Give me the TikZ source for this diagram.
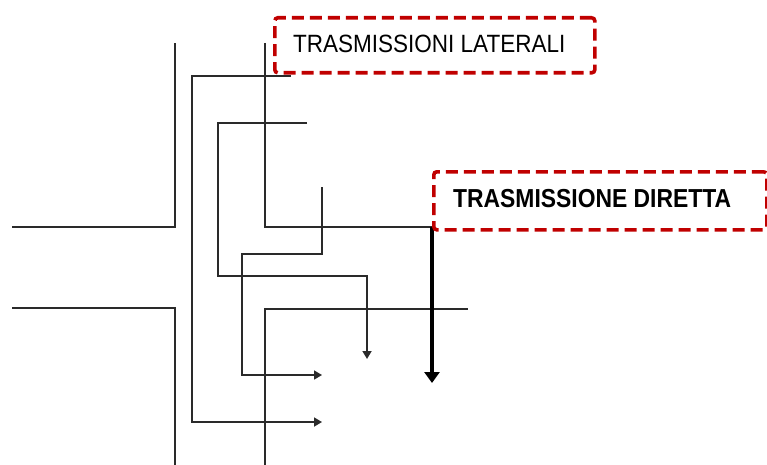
\documentclass[tikz,border=0pt]{standalone}
\usepackage{fontspec}
\setmainfont{Liberation Sans}
\usetikzlibrary{arrows.meta}
\definecolor{tagred}{HTML}{C00000}
\definecolor{ink}{HTML}{2A2A2A}

\begin{document}
\begin{tikzpicture}[x=1pt, y=-1pt,
  wallline/.style={line width=1.7pt, draw=ink},
  flow/.style={line width=1.7pt, draw=ink},
  flowtip/.style={-{Triangle[length=8pt, width=9pt]}},
  directtip/.style={-{Triangle[length=11pt, width=15pt]}},
  tagbox/.style={draw=tagred, line width=3.6pt, dash pattern=on 12pt off 6pt,
    rounded corners=3pt, inner sep=0pt, anchor=north west},
  tagtext/.style={anchor=base west, inner sep=0pt}]
\useasboundingbox (0,0) rectangle (767,465);

% walls of the two rooms
\coordinate (wuA) at (12,227);  \coordinate (wuB) at (175,227); \coordinate (wuC) at (175,43);
\coordinate (wlA) at (12,308);  \coordinate (wlB) at (175,308); \coordinate (wlC) at (175,465);
\draw[wallline] (wuA) -- (wuB) -- (wuC);
\draw[wallline] (wlA) -- (wlB) -- (wlC);

% flanking path A (outer)
\coordinate (a0) at (291,76); \coordinate (a1) at (192,76);
\coordinate (a2) at (192,422); \coordinate (a3) at (322,422);
\draw[flow, flowtip] (a0) -- (a1) -- (a2) -- (a3);

% separating element, upper side
\coordinate (b0) at (265,43); \coordinate (b1) at (265,227); \coordinate (b2) at (432,227);
\draw[flow] (b0) -- (b1) -- (b2);

% flanking path C
\coordinate (c0) at (307,123); \coordinate (c1) at (218,123); \coordinate (c2) at (218,276);
\coordinate (c3) at (367,276); \coordinate (c4) at (367,359);
\draw[flow, flowtip] (c0) -- (c1) -- (c2) -- (c3) -- (c4);

% flanking path D
\coordinate (d0) at (322,187); \coordinate (d1) at (322,254); \coordinate (d2) at (242,254);
\coordinate (d3) at (242,375); \coordinate (d4) at (322,375);
\draw[flow, flowtip] (d0) -- (d1) -- (d2) -- (d3) -- (d4);

% separating element, lower side
\coordinate (e0) at (265,465); \coordinate (e1) at (265,309); \coordinate (e2) at (468,309);
\draw[flow] (e0) -- (e1) -- (e2);

% direct transmission
\coordinate (f1) at (432,383);
\draw[line width=3.4pt, draw=black, directtip] (b2) -- (f1);

% labels
\node[tagbox, minimum width=320pt, minimum height=55pt] (latbox) at (273,16) {};
\node[tagtext, font=\fontsize{25}{30}\selectfont] (lattext) at (293,53)
  {\scalebox{0.9}[1]{TRASMISSIONI LATERALI}};
\node[tagbox, minimum width=333pt, minimum height=58pt] (dirbox) at (432,170) {};
\node[tagtext, font=\bfseries\fontsize{26}{31}\selectfont] (dirtext) at (453,207)
  {\scalebox{0.88}[1]{TRASMISSIONE DIRETTA}};
\end{tikzpicture}
\end{document}
